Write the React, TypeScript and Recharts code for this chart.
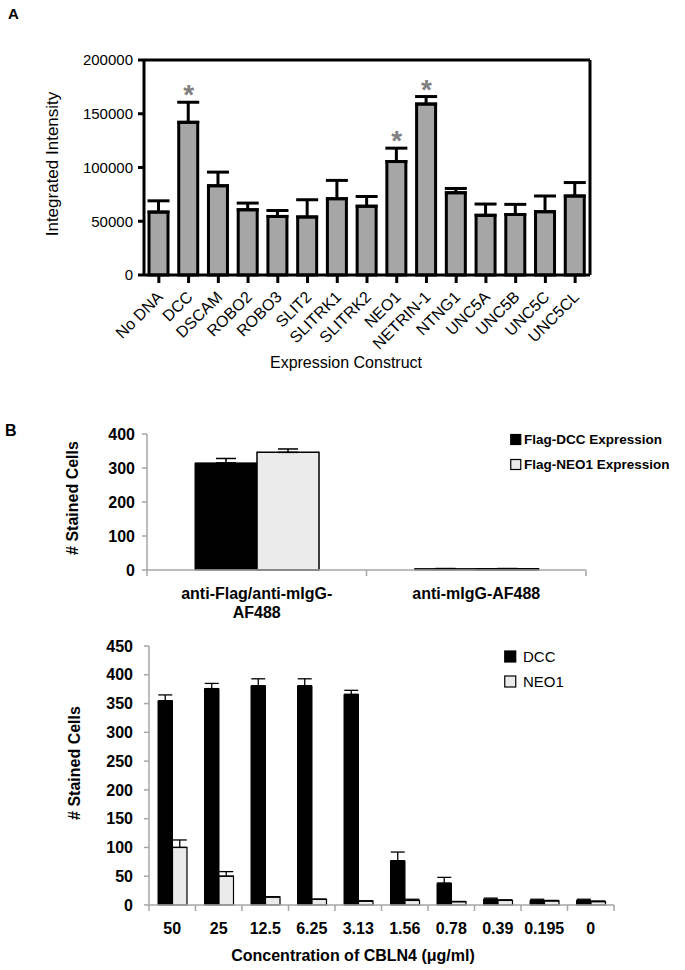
import React from 'react';
import { ComposedChart, BarChart, Bar, XAxis, YAxis, ErrorBar, Scatter, Legend, Label } from 'recharts';

const FONT = 'Arial, "Liberation Sans", Helvetica, sans-serif';

// ---------- Panel A data ----------
const constructs = ['No DNA', 'DCC', 'DSCAM', 'ROBO2', 'ROBO3', 'SLIT2', 'SLITRK1', 'SLITRK2', 'NEO1', 'NETRIN-1', 'NTNG1', 'UNC5A', 'UNC5B', 'UNC5C', 'UNC5CL'];
const intensity = [58500, 142000, 83000, 60700, 54500, 54000, 71000, 64000, 105500, 159000, 76500, 55500, 56300, 58900, 73500];
const intensityErr = [10500, 18700, 12700, 6200, 5500, 16000, 17000, 9000, 12500, 7000, 4000, 10500, 9400, 14600, 12500];
const significant = [false, true, false, false, false, false, false, false, true, true, false, false, false, false, false];
const intensityTicks = [0, 50000, 100000, 150000, 200000];

// ---------- Panel B (top) data ----------
const stainGroups = ['anti-Flag/anti-mIgG-\nAF488', 'anti-mIgG-AF488'];
const flagDcc = [315, 4];
const flagDccErr = [13, 0];
const flagNeo1 = [346, 4];
const flagNeo1Err = [10, 0];
const stainTicks = [0, 100, 200, 300, 400];

// ---------- Panel B (bottom) data ----------
const concentrations = ['50', '25', '12.5', '6.25', '3.13', '1.56', '0.78', '0.39', '0.195', '0'];
const dccCells = [355, 376, 381, 381, 366, 77, 38, 10, 8, 8];
const dccCellsErr = [10, 9, 12, 12, 7, 15, 10, 2, 2, 2];
const neo1Cells = [100, 50, 14, 10, 7, 8, 6, 8, 7, 6];
const neo1CellsErr = [13, 8, 0, 0, 0, 2, 0, 1, 1, 1];
const cellTicks = [0, 50, 100, 150, 200, 250, 300, 350, 400, 450];

const dataA = constructs.map((name, i) => ({
  name,
  value: intensity[i],
  err: [0, intensityErr[i]],
  star: significant[i] ? intensity[i] + intensityErr[i] : null,
}));

const dataB1 = stainGroups.map((name, i) => ({
  name,
  dcc: flagDcc[i],
  dccErr: [0, flagDccErr[i]],
  neo1: flagNeo1[i],
  neo1Err: [0, flagNeo1Err[i]],
}));

const dataB2 = concentrations.map((name, i) => ({
  name,
  dcc: dccCells[i],
  dccErr: [0, dccCellsErr[i]],
  neo1: neo1Cells[i],
  neo1Err: [0, neo1CellsErr[i]],
}));

const RotatedTick = (props: any) => {
  const { x, y, payload } = props;
  const ax = x + 5;
  const ay = y + 13;
  return (
    <text x={ax} y={ay} transform={`rotate(-45 ${ax} ${ay})`} textAnchor="end" fontSize={16} fontFamily={FONT} fill="#000">
      {payload.value}
    </text>
  );
};

const StarShape = (props: any) => {
  const { cx, cy, payload } = props;
  if (!payload || payload.star == null || cy == null || isNaN(cy)) return <g />;
  return (
    <text x={cx} y={cy + 2} textAnchor="middle" fontSize={28} fontWeight="bold" fill="#808080" fontFamily={FONT}>
      *
    </text>
  );
};

// Category tick: label(s) under band centre, tick marks at band boundaries (Excel style)
const BoundaryTick = (props: any) => {
  const { x, y, payload, index, visibleTicksCount, half } = props;
  const h = payload && typeof payload.offset === 'number' && payload.offset > 0 ? payload.offset : half;
  const lines = String(payload.value).split('\n');
  const last = index === visibleTicksCount - 1;
  return (
    <g>
      <line x1={x - h} y1={y} x2={x - h} y2={y + 6} stroke="#a6a6a6" strokeWidth={1.5} />
      {last && <line x1={x + h} y1={y} x2={x + h} y2={y + 6} stroke="#a6a6a6" strokeWidth={1.5} />}
      <text x={x} y={y} textAnchor="middle" fontSize={16} fontWeight="bold" fontFamily={FONT} fill="#000">
        {lines.map((l, i) => (
          <tspan key={i} x={x} y={y + 29 + i * 19}>{l}</tspan>
        ))}
      </text>
    </g>
  );
};

const makeLegend = (box: number, fontSize: number, weight: string, rowH: number, textX: number) => (props: any) => {
  const items = props.payload || [];
  return (
    <svg width={200} height={rowH * items.length} style={{ overflow: 'visible', display: 'block' }}>
      {items.map((e: any, i: number) => (
        <g key={i}>
          <rect
            x={0.75}
            y={i * rowH + (rowH - box) / 2}
            width={box}
            height={box}
            fill={(e.payload && e.payload.fill) || e.color}
            stroke="#000"
            strokeWidth={1.2}
          />
          <text x={textX} y={i * rowH + rowH / 2} dominantBaseline="central" fontSize={fontSize} fontWeight={weight} fontFamily={FONT} fill="#000">
            {e.value}
          </text>
        </g>
      ))}
    </svg>
  );
};

const grayAxis = { stroke: '#a6a6a6', strokeWidth: 1.5 };
const boldTick = { fontSize: 16, fontWeight: 'bold', fill: '#000', fontFamily: FONT };
const noTick = () => <g />;

export default function App() {
  return (
    <div style={{ position: 'absolute', left: 0, top: 0, width: 685, height: 970, background: '#fff', fontFamily: FONT }}>
      <div style={{ position: 'absolute', left: 8, top: 6, fontSize: 15, fontWeight: 'bold', lineHeight: '15px' }}>A</div>
      <div style={{ position: 'absolute', left: 5, top: 423, fontSize: 16, fontWeight: 'bold', lineHeight: '16px' }}>B</div>

      {/* Panel A */}
      <div style={{ position: 'absolute', left: 0, top: 0 }}>
        <ComposedChart width={685} height={380} data={dataA} margin={{ top: 59, right: 94, bottom: 0, left: 0 }}>
          <XAxis
            xAxisId="b"
            dataKey="name"
            height={105}
            interval={0}
            axisLine={{ stroke: '#000', strokeWidth: 3 }}
            tickLine={{ stroke: '#000', strokeWidth: 3 }}
            tickSize={8}
            tick={<RotatedTick />}
          >
            <Label
              content={() => (
                <text x={346} y={368} textAnchor="middle" fontSize={16} fontFamily={FONT} fill="#000">
                  Expression Construct
                </text>
              )}
            />
          </XAxis>
          <XAxis xAxisId="t" dataKey="name" orientation="top" height={1} tick={noTick} tickLine={false} axisLine={{ stroke: '#000', strokeWidth: 3 }} />
          <YAxis
            yAxisId="l"
            width={144}
            domain={[0, 200000]}
            ticks={intensityTicks}
            interval={0}
            axisLine={{ stroke: '#000', strokeWidth: 3 }}
            tickLine={{ stroke: '#000', strokeWidth: 3 }}
            tickSize={6}
            tickMargin={5}
            tick={{ fontSize: 15, fill: '#000', fontFamily: FONT }}
          >
            <Label
              content={() => (
                <text x={52} y={164} transform="rotate(-90 52 164)" textAnchor="middle" dominantBaseline="central" fontSize={17} fontFamily={FONT} fill="#000">
                  Integrated Intensity
                </text>
              )}
            />
          </YAxis>
          <YAxis yAxisId="r" orientation="right" width={1} domain={[0, 200000]} tick={noTick} tickLine={false} axisLine={{ stroke: '#000', strokeWidth: 3 }} />
          <Bar xAxisId="b" yAxisId="l" dataKey="value" fill="#a6a6a6" stroke="#000" strokeWidth={3} barSize={19} isAnimationActive={false}>
            <ErrorBar dataKey="err" width={11} strokeWidth={3} stroke="#000" direction="y" />
          </Bar>
          <Scatter xAxisId="b" yAxisId="l" dataKey="star" shape={<StarShape />} isAnimationActive={false} />
        </ComposedChart>
      </div>

      {/* Panel B top */}
      <div style={{ position: 'absolute', left: 0, top: 400 }}>
        <BarChart width={685} height={230} data={dataB1} margin={{ top: 34, right: 99, bottom: 0, left: 0 }} barGap={0}>
          <XAxis
            dataKey="name"
            height={60}
            interval={0}
            axisLine={grayAxis}
            tickLine={false}
            tickSize={0}
            tickMargin={0}
            tick={<BoundaryTick half={109.75} />}
          />
          <YAxis
            width={147}
            domain={[0, 400]}
            ticks={stainTicks}
            interval={0}
            axisLine={grayAxis}
            tickLine={grayAxis}
            tickSize={5}
            tickMargin={7}
            tick={boldTick}
          >
            <Label
              content={() => (
                <text x={72} y={98} transform="rotate(-90 72 98)" textAnchor="middle" dominantBaseline="central" fontSize={16} fontWeight="bold" fontFamily={FONT} fill="#000">
                  # Stained Cells
                </text>
              )}
            />
          </YAxis>
          <Legend
            layout="horizontal"
            verticalAlign="middle"
            align="center"
            wrapperStyle={{ left: 510, top: 26.5, width: 175 }}
            content={makeLegend(10, 13.5, 'bold', 25, 14)}
          />
          <Bar dataKey="dcc" name="Flag-DCC Expression" fill="#000000" stroke="#000" strokeWidth={1} barSize={62} isAnimationActive={false}>
            <ErrorBar dataKey="dccErr" width={10} strokeWidth={1.5} stroke="#000" direction="y" />
          </Bar>
          <Bar dataKey="neo1" name="Flag-NEO1 Expression" fill="#ebebeb" stroke="#000" strokeWidth={1.5} barSize={62} isAnimationActive={false}>
            <ErrorBar dataKey="neo1Err" width={10} strokeWidth={1.5} stroke="#000" direction="y" />
          </Bar>
        </BarChart>
      </div>

      {/* Panel B bottom */}
      <div style={{ position: 'absolute', left: 0, top: 630 }}>
        <BarChart width={685} height={340} data={dataB2} margin={{ top: 16, right: 71, bottom: 0, left: 0 }} barGap={0}>
          <XAxis
            dataKey="name"
            height={65}
            interval={0}
            axisLine={grayAxis}
            tickLine={false}
            tickSize={0}
            tickMargin={0}
            tick={<BoundaryTick half={23.25} />}
          >
            <Label
              content={() => (
                <text x={353} y={331} textAnchor="middle" fontSize={16} fontWeight="bold" fontFamily={FONT} fill="#000">
                  Concentration of CBLN4 (μg/ml)
                </text>
              )}
            />
          </XAxis>
          <YAxis
            width={149}
            domain={[0, 450]}
            ticks={cellTicks}
            interval={0}
            axisLine={grayAxis}
            tickLine={grayAxis}
            tickSize={5}
            tickMargin={11}
            tick={boldTick}
          >
            <Label
              content={() => (
                <text x={74} y={133} transform="rotate(-90 74 133)" textAnchor="middle" dominantBaseline="central" fontSize={16} fontWeight="bold" fontFamily={FONT} fill="#000">
                  # Stained Cells
                </text>
              )}
            />
          </YAxis>
          <Legend
            layout="horizontal"
            verticalAlign="middle"
            align="center"
            wrapperStyle={{ left: 504, top: 13.5, width: 120 }}
            content={makeLegend(11, 15, 'normal', 25, 19)}
          />
          <Bar dataKey="dcc" name="DCC" fill="#000000" stroke="#000" strokeWidth={1} barSize={14.5} isAnimationActive={false}>
            <ErrorBar dataKey="dccErr" width={7} strokeWidth={1.3} stroke="#000" direction="y" />
          </Bar>
          <Bar dataKey="neo1" name="NEO1" fill="#ebebeb" stroke="#000" strokeWidth={1.2} barSize={14.5} isAnimationActive={false}>
            <ErrorBar dataKey="neo1Err" width={7} strokeWidth={1.3} stroke="#000" direction="y" />
          </Bar>
        </BarChart>
      </div>
    </div>
  );
}
